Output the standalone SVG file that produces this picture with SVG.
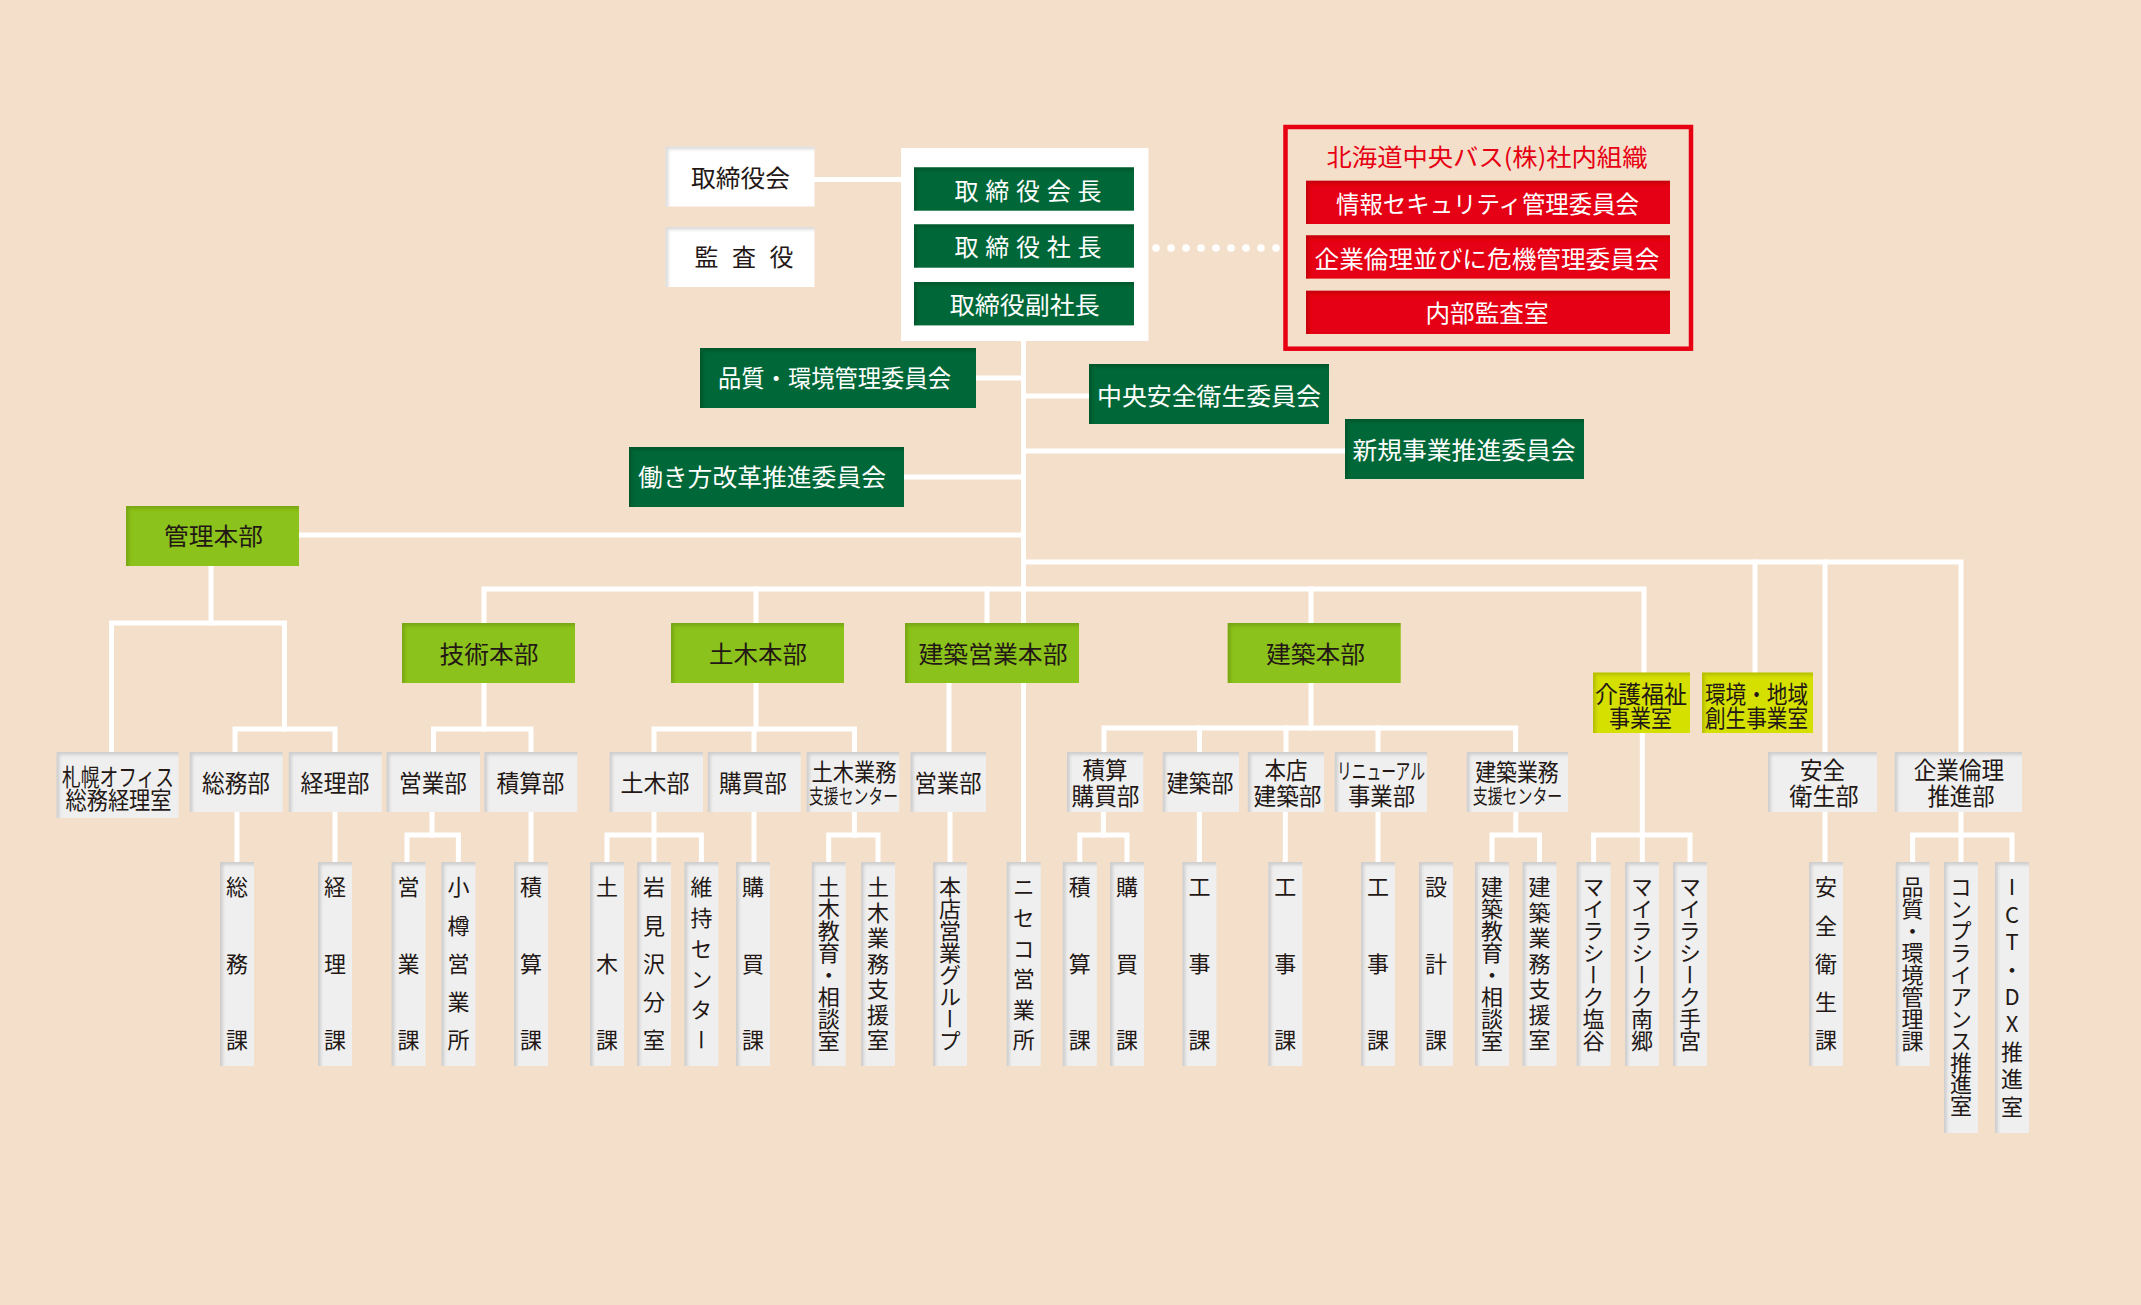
<svg xmlns="http://www.w3.org/2000/svg" width="2141" height="1305" viewBox="0 0 2141 1305">
<style>
.ln{stroke:#fff;stroke-width:5;fill:none;stroke-linecap:square;stroke-linejoin:miter}
.sh{filter:url(#ins)}
.wb{fill:#ffffff}
.gb{fill:#efefef}
.dg{fill:#006837}
.lg{fill:#8cc21f}
.yl{fill:#d5df00}
.rd{fill:#e60012}
.t{font-family:"Noto Sans CJK JP","Noto Sans CJK SC",sans-serif;fill:#231815;text-anchor:middle;font-size:24px}
.w{fill:#ffffff}
.r{fill:#e60012}
.v{font-family:"Noto Sans CJK JP","Noto Sans CJK SC",sans-serif;fill:#231815;font-size:22px;writing-mode:vertical-rl;text-orientation:upright}
</style>
<defs>
<filter id="ins" x="-30%" y="-30%" width="160%" height="160%">
<feComponentTransfer in="SourceAlpha" result="inv"><feFuncA type="table" tableValues="1 0"/></feComponentTransfer>
<feOffset dx="3" dy="3" result="off"/>
<feGaussianBlur stdDeviation="1.5" result="blur"/>
<feFlood flood-color="#000" flood-opacity="0.28"/>
<feComposite in2="blur" operator="in"/>
<feComposite in2="SourceAlpha" operator="in" result="shd"/>
<feMerge><feMergeNode in="SourceGraphic"/><feMergeNode in="shd"/></feMerge>
</filter>
</defs>
<rect x="0" y="0" width="2141" height="1305" fill="#f4dfcb"/>

<g id="connectors">
<path class="ln" d="M815 179.5H901"/>
<path class="ln" d="M1023.5 341V862"/>
<path class="ln" d="M976 378H1023.5"/>
<path class="ln" d="M1023.5 396H1089"/>
<path class="ln" d="M1023.5 451H1345"/>
<path class="ln" d="M904 477H1023.5"/>
<path class="ln" d="M299 535H1023.5"/>
<path class="ln" d="M1023.5 562H1961V752"/>
<path class="ln" d="M484 623V589H1644V673"/>
<path class="ln" d="M756 589V623"/>
<path class="ln" d="M987 589V623"/>
<path class="ln" d="M1311 589V623"/>
<path class="ln" d="M1755 562V673"/>
<path class="ln" d="M1825 562V752"/>
<path class="ln" d="M211 566V623"/>
<path class="ln" d="M111.5 752V623H284.5V729"/>
<path class="ln" d="M235 752V729H335V752"/>
<path class="ln" d="M484 683V729"/>
<path class="ln" d="M433.5 752V729H531V752"/>
<path class="ln" d="M756 683V729"/>
<path class="ln" d="M654 752V729H854.5V752"/>
<path class="ln" d="M754 729V752"/>
<path class="ln" d="M949 683V752"/>
<path class="ln" d="M1311 683V728"/>
<path class="ln" d="M1104 752V728H1515.6V752"/>
<path class="ln" d="M1199.5 728V752"/>
<path class="ln" d="M1286 728V752"/>
<path class="ln" d="M1378 728V752"/>
<path class="ln" d="M237 812V862"/>
<path class="ln" d="M335 812V862"/>
<path class="ln" d="M432 812V835"/>
<path class="ln" d="M407 862V835H458.4V862"/>
<path class="ln" d="M531 812V862"/>
<path class="ln" d="M654 812V862"/>
<path class="ln" d="M607 862V835H701.4V862"/>
<path class="ln" d="M754 812V862"/>
<path class="ln" d="M854.4 812V835"/>
<path class="ln" d="M828.7 862V835H878V862"/>
<path class="ln" d="M950 812V862"/>
<path class="ln" d="M1103.4 812V835"/>
<path class="ln" d="M1079.8 862V835H1127V862"/>
<path class="ln" d="M1199.4 812V862"/>
<path class="ln" d="M1285.3 812V862"/>
<path class="ln" d="M1378 812V862"/>
<path class="ln" d="M1515.8 812V835"/>
<path class="ln" d="M1492 862V835H1539.5V862"/>
<path class="ln" d="M1642.3 733V862"/>
<path class="ln" d="M1593.6 862V835H1690V862"/>
<path class="ln" d="M1825 812V862"/>
<path class="ln" d="M1961 812V862"/>
<path class="ln" d="M1912.6 862V835H2012V862"/>
<g fill="#fff">
<circle cx="1156" cy="248" r="3.8"/><circle cx="1171" cy="248" r="3.8"/><circle cx="1186" cy="248" r="3.8"/><circle cx="1201" cy="248" r="3.8"/><circle cx="1216" cy="248" r="3.8"/><circle cx="1231" cy="248" r="3.8"/><circle cx="1246" cy="248" r="3.8"/><circle cx="1261" cy="248" r="3.8"/><circle cx="1276" cy="248" r="3.8"/>
</g>
</g>

<g id="n-torishimariyakukai"><rect class="wb sh" x="665.5" y="146.5" width="149" height="60"/><text class="t" x="740.5" y="187" font-size="25" textLength="99" lengthAdjust="spacingAndGlyphs">取締役会</text></g>
<g id="n-kansayaku"><rect class="wb sh" x="665.5" y="227" width="149" height="60"/><text class="t" x="706.5 744 781.5" y="266" font-size="25">監査役</text></g>

<g id="n-top">
<rect class="wb" x="901" y="148" width="247.5" height="193"/>
<g id="n-kaicho"><rect class="dg sh" x="914" y="167.3" width="220" height="43.4"/><text class="t w" x="966.5 997.25 1028 1058.75 1089.5" y="200" font-size="25">取締役会長</text></g>
<g id="n-shacho"><rect class="dg sh" x="914" y="224.3" width="220" height="43.4"/><text class="t w" x="966.5 997.25 1028 1058.75 1089.5" y="256" font-size="25">取締役社長</text></g>
<g id="n-fukushacho"><rect class="dg sh" x="914" y="282" width="220" height="43.4"/><text class="t w" x="1024.8" y="314" font-size="25" textLength="150" lengthAdjust="spacingAndGlyphs">取締役副社長</text></g>
</g>

<g id="n-shanai">
<rect x="1285.5" y="127" width="405.5" height="221.7" fill="none" stroke="#e60012" stroke-width="4.5"/>
<text class="t r" x="1487" y="166" font-size="23" textLength="321" lengthAdjust="spacingAndGlyphs">北海道中央バス(株)社内組織</text>
<g id="n-joho"><rect class="rd sh" x="1306" y="180.7" width="364" height="43.3"/><text class="t w" x="1487.5" y="213" font-size="25" textLength="303" lengthAdjust="spacingAndGlyphs">情報セキュリティ管理委員会</text></g>
<g id="n-kigyorinri-iinkai"><rect class="rd sh" x="1306" y="235.3" width="364" height="43.3"/><text class="t w" x="1487" y="268" font-size="25" textLength="345" lengthAdjust="spacingAndGlyphs">企業倫理並びに危機管理委員会</text></g>
<g id="n-naibukansa"><rect class="rd sh" x="1306" y="290.7" width="364" height="43.3"/><text class="t w" x="1487" y="322" font-size="25" textLength="123" lengthAdjust="spacingAndGlyphs">内部監査室</text></g>
</g>

<g id="n-hinshitsu-iinkai"><rect class="dg sh" x="700" y="348" width="276" height="60"/><text class="t w" x="834.5" y="387" font-size="25" textLength="233" lengthAdjust="spacingAndGlyphs">品質・環境管理委員会</text></g>
<g id="n-anzen-iinkai"><rect class="dg sh" x="1089" y="364" width="240" height="60"/><text class="t w" x="1209" y="405" font-size="25" textLength="224" lengthAdjust="spacingAndGlyphs">中央安全衛生委員会</text></g>
<g id="n-shinki-iinkai"><rect class="dg sh" x="1345" y="419" width="239" height="60"/><text class="t w" x="1464" y="459" font-size="25" textLength="223" lengthAdjust="spacingAndGlyphs">新規事業推進委員会</text></g>
<g id="n-hatarakikata-iinkai"><rect class="dg sh" x="629" y="447" width="275" height="60"/><text class="t w" x="762" y="486" font-size="25" textLength="248" lengthAdjust="spacingAndGlyphs">働き方改革推進委員会</text></g>

<g id="n-kanri"><rect class="lg sh" x="126" y="506" width="173" height="60"/><text class="t" x="213.5" y="545" font-size="26" textLength="99" lengthAdjust="spacingAndGlyphs">管理本部</text></g>
<g id="n-gijutsu"><rect class="lg sh" x="402" y="623" width="173" height="60"/><text class="t" x="489" y="663" font-size="26" textLength="99" lengthAdjust="spacingAndGlyphs">技術本部</text></g>
<g id="n-doboku"><rect class="lg sh" x="671" y="623" width="173" height="60"/><text class="t" x="758" y="663" font-size="26" textLength="98" lengthAdjust="spacingAndGlyphs">土木本部</text></g>
<g id="n-kenchikueigyo"><rect class="lg sh" x="905" y="623" width="174" height="60"/><text class="t" x="993" y="663" font-size="26" textLength="149" lengthAdjust="spacingAndGlyphs">建築営業本部</text></g>
<g id="n-kenchiku"><rect class="lg sh" x="1227.7" y="623" width="173" height="60"/><text class="t" x="1315.5" y="663" font-size="26" textLength="99" lengthAdjust="spacingAndGlyphs">建築本部</text></g>
<g id="n-kaigo"><rect class="yl sh" x="1593" y="672.5" width="97" height="60.5"/><text class="t" font-size="23"><tspan x="1641" y="702.5" textLength="92" lengthAdjust="spacingAndGlyphs">介護福祉</tspan><tspan x="1640.5" y="726.5" textLength="63" lengthAdjust="spacingAndGlyphs">事業室</tspan></text></g>
<g id="n-kankyo"><rect class="yl sh" x="1702" y="672.5" width="111" height="60.5"/><text class="t" font-size="23"><tspan x="1756.5" y="702.5" textLength="103" lengthAdjust="spacingAndGlyphs">環境・地域</tspan><tspan x="1756.5" y="726.5" textLength="103" lengthAdjust="spacingAndGlyphs">創生事業室</tspan></text></g>

<g id="n-sapporo"><rect class="gb sh" x="56.5" y="752" width="122" height="66"/><text class="t" font-size="22"><tspan x="118" y="785.5" textLength="112" lengthAdjust="spacingAndGlyphs">札幌オフィス</tspan><tspan x="118.5" y="808.5" textLength="106" lengthAdjust="spacingAndGlyphs">総務経理室</tspan></text></g>
<g id="n-somubu"><rect class="gb sh" x="189.6" y="752" width="93" height="60"/><text class="t" x="236" y="792" textLength="68" lengthAdjust="spacingAndGlyphs">総務部</text></g>
<g id="n-keiribu"><rect class="gb sh" x="288.7" y="752" width="93" height="60"/><text class="t" x="335" y="792" textLength="69" lengthAdjust="spacingAndGlyphs">経理部</text></g>
<g id="n-eigyobu1"><rect class="gb sh" x="386.5" y="752" width="93.5" height="60"/><text class="t" x="433" y="792" textLength="68" lengthAdjust="spacingAndGlyphs">営業部</text></g>
<g id="n-sekisanbu"><rect class="gb sh" x="484.3" y="752" width="93" height="60"/><text class="t" x="530.5" y="792" textLength="68" lengthAdjust="spacingAndGlyphs">積算部</text></g>
<g id="n-dobokubu"><rect class="gb sh" x="609.5" y="752" width="93.5" height="60"/><text class="t" x="655" y="792" textLength="69" lengthAdjust="spacingAndGlyphs">土木部</text></g>
<g id="n-kobaibu"><rect class="gb sh" x="707.7" y="752" width="93" height="60"/><text class="t" x="753" y="792" textLength="68" lengthAdjust="spacingAndGlyphs">購買部</text></g>
<g id="n-dobokushien"><rect class="gb sh" x="806.6" y="752" width="92.5" height="60"/><text class="t" font-size="22"><tspan x="854" y="781" textLength="85" lengthAdjust="spacingAndGlyphs">土木業務</tspan><tspan x="853.5" y="804" font-size="20" textLength="89" lengthAdjust="spacingAndGlyphs">支援センター</tspan></text></g>
<g id="n-eigyobu2"><rect class="gb sh" x="910.5" y="752" width="75.5" height="60"/><text class="t" x="948" y="792" textLength="67" lengthAdjust="spacingAndGlyphs">営業部</text></g>
<g id="n-sekisankobai"><rect class="gb sh" x="1067" y="752" width="76.3" height="60"/><text class="t" font-size="23"><tspan x="1105" y="779" textLength="45" lengthAdjust="spacingAndGlyphs">積算</tspan><tspan x="1105.5" y="805" textLength="68" lengthAdjust="spacingAndGlyphs">購買部</tspan></text></g>
<g id="n-kenchikubu"><rect class="gb sh" x="1162.7" y="752" width="76.3" height="60"/><text class="t" x="1200" y="792" textLength="67" lengthAdjust="spacingAndGlyphs">建築部</text></g>
<g id="n-honten"><rect class="gb sh" x="1247.8" y="752" width="76.2" height="60"/><text class="t" font-size="23"><tspan x="1286" y="779" textLength="43" lengthAdjust="spacingAndGlyphs">本店</tspan><tspan x="1287.5" y="805" textLength="68" lengthAdjust="spacingAndGlyphs">建築部</tspan></text></g>
<g id="n-renewal"><rect class="gb sh" x="1334.8" y="752" width="92.2" height="60"/><text class="t" font-size="23"><tspan x="1381" y="779" font-size="22" textLength="88" lengthAdjust="spacingAndGlyphs">リニューアル</tspan><tspan x="1381.5" y="805" textLength="67" lengthAdjust="spacingAndGlyphs">事業部</tspan></text></g>
<g id="n-kenchikushien"><rect class="gb sh" x="1466.8" y="752" width="101.2" height="60"/><text class="t" font-size="22"><tspan x="1517" y="781" textLength="83.5" lengthAdjust="spacingAndGlyphs">建築業務</tspan><tspan x="1517.5" y="804" font-size="20" textLength="89.5" lengthAdjust="spacingAndGlyphs">支援センター</tspan></text></g>
<g id="n-anzeneisei"><rect class="gb sh" x="1768" y="752" width="109" height="60"/><text class="t" font-size="23"><tspan x="1822.5" y="779" textLength="45" lengthAdjust="spacingAndGlyphs">安全</tspan><tspan x="1824" y="805" textLength="69.5" lengthAdjust="spacingAndGlyphs">衛生部</tspan></text></g>
<g id="n-kigyorinri"><rect class="gb sh" x="1894.7" y="752" width="127.3" height="60"/><text class="t" font-size="23"><tspan x="1959" y="779" textLength="90.5" lengthAdjust="spacingAndGlyphs">企業倫理</tspan><tspan x="1961" y="805" textLength="67" lengthAdjust="spacingAndGlyphs">推進部</tspan></text></g>

<g id="n-somuka"><rect class="gb sh" x="220" y="862" width="34" height="204"/><text class="v" x="237" y="876" letter-spacing="54.5">総務課</text></g>
<g id="n-keirika"><rect class="gb sh" x="318" y="862" width="34" height="204"/><text class="v" x="335" y="876" letter-spacing="54.5">経理課</text></g>
<g id="n-eigyoka"><rect class="gb sh" x="391.5" y="862" width="34" height="204"/><text class="v" x="408.5" y="876" letter-spacing="54.5">営業課</text></g>
<g id="n-otaru"><rect class="gb sh" x="441.4" y="862" width="34" height="204"/><text class="v" x="458.4" y="876" letter-spacing="16.25">小樽営業所</text></g>
<g id="n-sekisanka1"><rect class="gb sh" x="514" y="862" width="34" height="204"/><text class="v" x="531" y="876" letter-spacing="54.5">積算課</text></g>
<g id="n-dobokuka"><rect class="gb sh" x="590" y="862" width="34" height="204"/><text class="v" x="607" y="876" letter-spacing="54.5">土木課</text></g>
<g id="n-iwamizawa"><rect class="gb sh" x="637" y="862" width="34" height="204"/><text class="v" x="654" y="876" letter-spacing="16.25">岩見沢分室</text></g>
<g id="n-iji"><rect class="gb sh" x="684.4" y="862" width="34" height="204"/><text class="v" x="701.4" y="876" letter-spacing="8.6">維持センター</text></g>
<g id="n-kobaika1"><rect class="gb sh" x="736" y="862" width="34" height="204"/><text class="v" x="753" y="876" letter-spacing="54.5">購買課</text></g>
<g id="n-dobokukyoiku"><rect class="gb sh" x="811.7" y="862" width="34" height="204"/><text class="v" x="828.7" y="876" letter-spacing="-0.1">土木教育・相談室</text></g>
<g id="n-dobokugyomu"><rect class="gb sh" x="861" y="862" width="34" height="204"/><text class="v" x="878" y="876" letter-spacing="3.5">土木業務支援室</text></g>
<g id="n-hontengroup"><rect class="gb sh" x="933" y="862" width="34" height="204"/><text class="v" x="950" y="876" letter-spacing="-0.1">本店営業グループ</text></g>
<g id="n-niseko"><rect class="gb sh" x="1006.7" y="862" width="34" height="204"/><text class="v" x="1023.7" y="876" letter-spacing="8.6">ニセコ営業所</text></g>
<g id="n-sekisanka2"><rect class="gb sh" x="1062.8" y="862" width="34" height="204"/><text class="v" x="1079.8" y="876" letter-spacing="54.5">積算課</text></g>
<g id="n-kobaika2"><rect class="gb sh" x="1110" y="862" width="34" height="204"/><text class="v" x="1127" y="876" letter-spacing="54.5">購買課</text></g>
<g id="n-kojika1"><rect class="gb sh" x="1182.4" y="862" width="34" height="204"/><text class="v" x="1199.4" y="876" letter-spacing="54.5">工事課</text></g>
<g id="n-kojika2"><rect class="gb sh" x="1268.3" y="862" width="34" height="204"/><text class="v" x="1285.3" y="876" letter-spacing="54.5">工事課</text></g>
<g id="n-kojika3"><rect class="gb sh" x="1361" y="862" width="34" height="204"/><text class="v" x="1378" y="876" letter-spacing="54.5">工事課</text></g>
<g id="n-sekkeika"><rect class="gb sh" x="1419" y="862" width="34" height="204"/><text class="v" x="1436" y="876" letter-spacing="54.5">設計課</text></g>
<g id="n-kenchikukyoiku"><rect class="gb sh" x="1475" y="862" width="34" height="204"/><text class="v" x="1492" y="876" letter-spacing="-0.1">建築教育・相談室</text></g>
<g id="n-kenchikugyomu"><rect class="gb sh" x="1522.5" y="862" width="34" height="204"/><text class="v" x="1539.5" y="876" letter-spacing="3.5">建築業務支援室</text></g>
<g id="n-shioya"><rect class="gb sh" x="1576.6" y="862" width="34" height="204"/><text class="v" x="1593.6" y="876" letter-spacing="-0.1">マイラシーク塩谷</text></g>
<g id="n-nango"><rect class="gb sh" x="1625" y="862" width="34" height="204"/><text class="v" x="1642" y="876" letter-spacing="-0.1">マイラシーク南郷</text></g>
<g id="n-temiya"><rect class="gb sh" x="1673" y="862" width="34" height="204"/><text class="v" x="1690" y="876" letter-spacing="-0.1">マイラシーク手宮</text></g>
<g id="n-anzenka"><rect class="gb sh" x="1809" y="862" width="34" height="204"/><text class="v" x="1826" y="876" letter-spacing="16.25">安全衛生課</text></g>
<g id="n-hinshitsuka"><rect class="gb sh" x="1895.6" y="862" width="34" height="204"/><text class="v" x="1912.6" y="876" letter-spacing="-0.1">品質・環境管理課</text></g>
<g id="n-compliance"><rect class="gb sh" x="1944" y="862" width="34" height="271"/><text class="v" x="1961" y="876" letter-spacing="-0.1">コンプライアンス推進室</text></g>
<g id="n-ictdx"><rect class="gb sh" x="1995" y="862" width="34" height="271"/><text class="v" x="2012" y="876" letter-spacing="5.4">ICT・DX推進室</text></g>
</svg>
